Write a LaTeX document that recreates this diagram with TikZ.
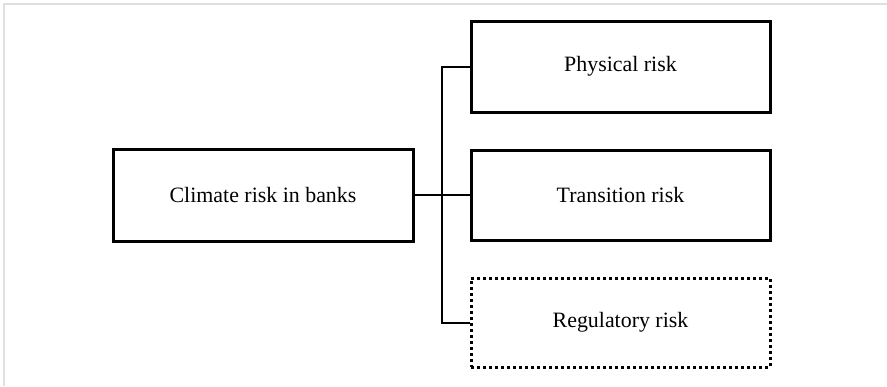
\documentclass[tikz,border=0pt]{standalone}
\usepackage{fontspec}
\setmainfont{Liberation Serif}
\begin{document}
\begin{tikzpicture}[x=1pt,y=-1pt,
  riskbox/.style={draw=black, line width=3pt, minimum width=299pt, minimum height=91pt,
    inner sep=0pt, font=\fontsize{21.9}{26}\selectfont},
  dottedbox/.style={riskbox, dash pattern=on 3pt off 3pt},
  link/.style={draw=black, line width=2pt},
  frameline/.style={draw=black!12, line width=1.2pt}]
\useasboundingbox (0,0) rectangle (887,386);
\draw[frameline] (4,386) -- (4,4) -- (887,4);
\node[riskbox, minimum width=300pt, minimum height=92pt] (climate) at (263,195) {Climate risk in banks};
\node[riskbox] (phys) at (620.5,66.5) {Physical risk};
\node[riskbox, minimum height=90pt] (trans) at (620.5,195) {Transition risk};
\node[dottedbox, minimum height=89pt] (reg) at (620.5,322.5) {Regulatory risk};
\coordinate (tk) at (442,195);
\draw[link] (climate.east) -- (trans.west);
\draw[link] (phys.west) -| (tk) |- (reg.west);
\end{tikzpicture}
\end{document}
